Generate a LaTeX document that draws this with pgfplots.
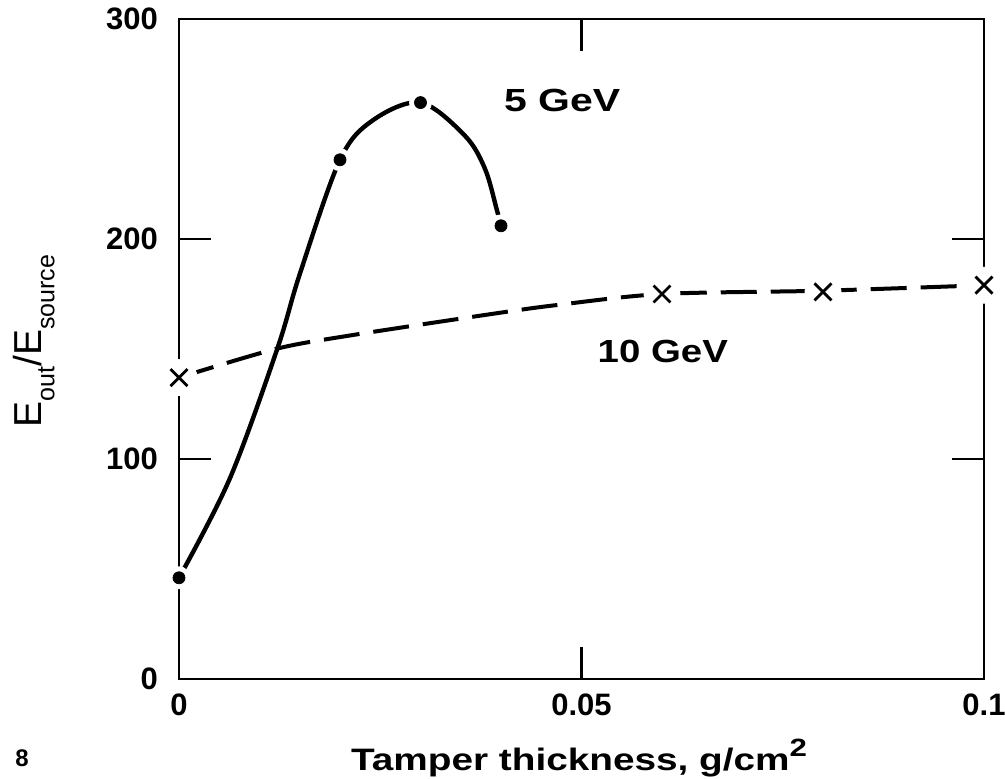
\documentclass[border=0pt]{standalone}
\usepackage{fontspec}
\setmainfont{Liberation Sans}
\usepackage{graphicx}
\usepackage{pgfplots}
\pgfplotsset{compat=1.18}
\usetikzlibrary{calc}
\newcommand{\bigf}{\fontsize{15.5}{18}\selectfont}
\newcommand{\wide}[1]{\scalebox{1.25}[1]{#1}}
\begin{document}
\begin{tikzpicture}
\begin{axis}[
  width=402.5pt, height=330pt, scale only axis,
  xmin=0, xmax=0.1, ymin=0, ymax=300,
  clip=false, axis on top=true,
  axis line style={line width=1.2pt, black},
  xtick={0,0.05,0.1}, xticklabels={0,0.05,0.1},
  ytick={0,100,200,300}, yticklabels={0,100,200,300},
  tick style={line width=1.2pt, black},
  major tick length=16pt,
  tick align=inside,
  xticklabel style={font=\bigf\bfseries, yshift=-4pt},
  yticklabel style={font=\bigf\bfseries, xshift=-7pt},
  xlabel={\wide{Tamper thickness, g/cm\raisebox{0.45em}{\fontsize{12.5}{12.5}\selectfont\bfseries 2}}},
  xlabel style={font=\bigf\bfseries, at={(axis description cs:0.497,-0.09)}, anchor=north, inner sep=0pt},
  ylabel={E\raisebox{-0.32em}{\fontsize{12.5}{12.5}\selectfont out}/E\raisebox{-0.32em}{\fontsize{12.5}{12.5}\selectfont source}},
  ylabel style={font=\fontsize{19.5}{22}\selectfont, at={(axis description cs:-0.206,0.512)}, anchor=north, inner sep=0pt},
]
% 5 GeV curve
\addplot[black, line width=2.2pt, smooth, tension=0.55] coordinates {
  (0,46) (0.0063,91) (0.0122,150) (0.015,184) (0.02,236)
  (0.0241,254) (0.03,262) (0.0355,247) (0.038,232) (0.0395,213) (0.04,206)
};
% 10 GeV curve
\addplot[black, line width=2pt, smooth, dash pattern=on 18pt off 7pt] coordinates {
  (0,137) (0.012,150) (0.021,156) (0.039,166) (0.047,170)
  (0.06,175) (0.08,176.5) (0.1,179)
};
% halos
\addplot[only marks, mark=*, mark size=5.5pt, white, mark options={draw=white, fill=white}] coordinates {
  (0,46) (0.02,236) (0.03,262) (0.04,206)
};
\addplot[only marks, mark=*, mark size=9pt, white, mark options={draw=white, fill=white}] coordinates {
  (0,137) (0.06,175) (0.08,176) (0.1,179)
};
% markers
\addplot[only marks, mark=*, mark size=3pt, black] coordinates {
  (0,46) (0.02,236) (0.03,262) (0.04,206)
};
\addplot[only marks, mark=x, mark size=6pt, black, mark options={line width=1.4pt}] coordinates {
  (0,137) (0.06,175) (0.08,176) (0.1,179)
};
\node[font=\fontsize{16}{18}\selectfont\bfseries] at (axis cs:0.0476,263) {\scalebox{1.28}[1]{5 GeV}};
\node[font=\fontsize{16}{18}\selectfont\bfseries] at (axis cs:0.0601,149) {\scalebox{1.2}[1]{10 GeV}};
\node[font=\fontsize{12}{14}\selectfont\bfseries] at (axis description cs:-0.195,-0.12) {8};
\end{axis}
\pgfresetboundingbox
\path[use as bounding box] ($(current axis.south west)+(-89.5pt,-50pt)$) rectangle ($(current axis.north east)+(10.5pt,9.5pt)$);
\end{tikzpicture}
\end{document}
